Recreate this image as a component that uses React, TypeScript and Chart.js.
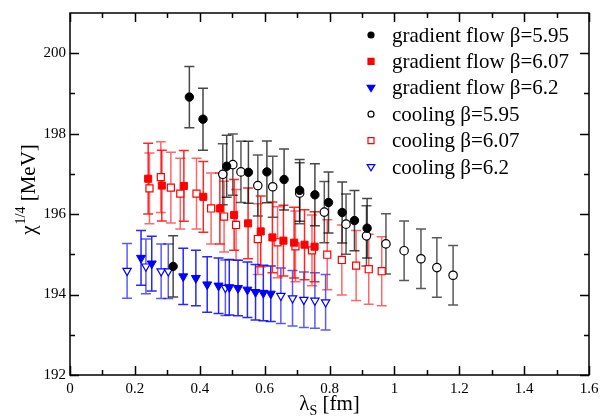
import React, { useEffect, useRef } from 'react';
import { Chart, registerables } from 'chart.js';

Chart.register(...registerables);

// ---- data ----
const gfB595X = [0.318, 0.368, 0.410, 0.483, 0.550, 0.607, 0.660, 0.708, 0.755, 0.797, 0.839, 0.877, 0.916];
const gfB595Y = [194.70, 198.91, 198.36, 197.19, 197.04, 197.05, 196.86, 196.59, 196.48, 196.29, 196.04, 195.84, 195.65];
const gfB595Err = [0.76, 0.76, 0.77, 0.77, 0.77, 0.77, 0.76, 0.77, 0.77, 0.76, 0.76, 0.75, 0.74];

const gfB607X = [0.241, 0.283, 0.351, 0.411, 0.462, 0.506, 0.549, 0.588, 0.624, 0.658, 0.691, 0.723, 0.754];
const gfB607Y = [196.88, 196.71, 196.70, 196.43, 196.14, 195.98, 195.77, 195.57, 195.42, 195.34, 195.29, 195.24, 195.19];
const gfB607Err = [0.88, 0.88, 0.88, 0.88, 0.88, 0.88, 0.88, 0.88, 0.88, 0.88, 0.88, 0.87, 0.87];

const gfB62X = [0.219, 0.252, 0.349, 0.388, 0.423, 0.458, 0.491, 0.518, 0.547, 0.572, 0.596, 0.619];
const gfB62Y = [194.91, 194.77, 194.45, 194.41, 194.25, 194.22, 194.18, 194.16, 194.12, 194.06, 194.04, 194.02];
const gfB62Err = [0.68, 0.68, 0.70, 0.69, 0.69, 0.69, 0.69, 0.69, 0.69, 0.69, 0.69, 0.69];

const coolB595X = [0.471, 0.502, 0.527, 0.579, 0.625, 0.708, 0.784, 0.851, 0.914, 0.974, 1.030, 1.082, 1.131, 1.181];
const coolB595Y = [196.99, 197.23, 197.05, 196.71, 196.68, 196.52, 196.05, 195.75, 195.46, 195.26, 195.09, 194.89, 194.67, 194.48];
const coolB595Err = [0.76, 0.76, 0.76, 0.76, 0.76, 0.76, 0.76, 0.75, 0.75, 0.75, 0.74, 0.74, 0.74, 0.74];

const coolB607X = [0.245, 0.280, 0.311, 0.340, 0.390, 0.435, 0.475, 0.512, 0.579, 0.640, 0.695, 0.746, 0.793, 0.838, 0.882, 0.921, 0.961];
const coolB607Y = [196.64, 196.92, 196.66, 196.51, 196.51, 196.14, 195.94, 195.73, 195.38, 195.30, 195.20, 195.10, 194.99, 194.86, 194.72, 194.63, 194.58];
const coolB607Err = [0.88, 0.88, 0.88, 0.88, 0.88, 0.88, 0.88, 0.88, 0.88, 0.88, 0.88, 0.88, 0.87, 0.87, 0.87, 0.87, 0.86];

const coolB62X = [0.176, 0.234, 0.281, 0.303, 0.479, 0.650, 0.686, 0.721, 0.755, 0.788];
const coolB62Y = [194.59, 194.70, 194.58, 194.58, 194.17, 193.97, 193.91, 193.87, 193.85, 193.81];
const coolB62Err = [0.68, 0.68, 0.68, 0.68, 0.69, 0.69, 0.69, 0.69, 0.69, 0.69];

const seriesLabels = [
  'gradient flow \u03b2=5.95',
  'gradient flow \u03b2=6.07',
  'gradient flow \u03b2=6.2',
  'cooling \u03b2=5.95',
  'cooling \u03b2=6.07',
  'cooling \u03b2=6.2',
];

const xTicks = [0, 0.2, 0.4, 0.6, 0.8, 1.0, 1.2, 1.4, 1.6];
const xMinorTicks = [0.1, 0.3, 0.5, 0.7, 0.9, 1.1, 1.3, 1.5];
const yTicks = [192, 194, 196, 198, 200];
const yMinorTicks = [193, 195, 197, 199];

const SERIF = '"Liberation Serif", "DejaVu Serif", serif';

const zip = (xs: number[], ys: number[]) => xs.map((x, i) => ({ x, y: ys[i] }));

const errorBarPlugin = {
  id: 'errorBars',
  beforeDatasetsDraw(chart: any) {
    const { ctx } = chart;
    const xs = chart.scales.x;
    const ys = chart.scales.y;
    for (let i = chart.data.datasets.length - 1; i >= 0; i--) {
      const ds: any = chart.data.datasets[i];
      const errs: number[] = ds.errors || [];
      ctx.save();
      ctx.strokeStyle = ds.errorColor;
      ctx.lineWidth = 1.5;
      ds.data.forEach((pt: any, j: number) => {
        const e = errs[j] || 0;
        const px = xs.getPixelForValue(pt.x);
        const yt = ys.getPixelForValue(pt.y + e);
        const yb = ys.getPixelForValue(pt.y - e);
        ctx.beginPath();
        ctx.moveTo(px, yt);
        ctx.lineTo(px, yb);
        ctx.moveTo(px - 5, yt);
        ctx.lineTo(px + 5, yt);
        ctx.moveTo(px - 5, yb);
        ctx.lineTo(px + 5, yb);
        ctx.stroke();
      });
      ctx.restore();
    }
  },
};

const framePlugin = {
  id: 'frame',
  afterDatasetsDraw(chart: any) {
    const { ctx, chartArea: a } = chart;
    const xs = chart.scales.x;
    const ys = chart.scales.y;
    ctx.save();
    ctx.strokeStyle = '#000';
    ctx.lineWidth = 1.5;
    ctx.strokeRect(a.left, a.top, a.right - a.left, a.bottom - a.top);
    ctx.beginPath();
    const major = 9;
    const minor = 5;
    const xt = (vals: number[], len: number) => {
      vals.forEach((v) => {
        const p = Math.round(xs.getPixelForValue(v)) + 0.5;
        ctx.moveTo(p, a.bottom);
        ctx.lineTo(p, a.bottom - len);
        ctx.moveTo(p, a.top);
        ctx.lineTo(p, a.top + len);
      });
    };
    const yt = (vals: number[], len: number) => {
      vals.forEach((v) => {
        const p = Math.round(ys.getPixelForValue(v)) + 0.5;
        ctx.moveTo(a.left, p);
        ctx.lineTo(a.left + len, p);
        ctx.moveTo(a.right, p);
        ctx.lineTo(a.right - len, p);
      });
    };
    xt(xTicks, major);
    xt(xMinorTicks, minor);
    yt(yTicks, major);
    yt(yMinorTicks, minor);
    ctx.stroke();
    ctx.restore();
  },
};

const drawMarker = (ctx: any, kind: string, filled: boolean, color: string, x: number, y: number, r: number) => {
  ctx.save();
  ctx.beginPath();
  if (kind === 'circle') {
    ctx.arc(x, y, r, 0, Math.PI * 2);
  } else if (kind === 'rect') {
    ctx.rect(x - r, y - r, 2 * r, 2 * r);
  } else {
    ctx.moveTo(x - r * 0.95, y - r * 0.6);
    ctx.lineTo(x + r * 0.95, y - r * 0.6);
    ctx.lineTo(x, y + r * 0.95);
    ctx.closePath();
  }
  ctx.lineWidth = 1.2;
  ctx.strokeStyle = color;
  ctx.fillStyle = filled ? color : '#fff';
  ctx.fill();
  ctx.stroke();
  ctx.restore();
};

const legendPlugin = {
  id: 'customLegend',
  afterDraw(chart: any) {
    const { ctx } = chart;
    ctx.save();
    ctx.font = `21px ${SERIF}`;
    ctx.textBaseline = 'middle';
    ctx.textAlign = 'left';
    ctx.fillStyle = '#000';
    chart.data.datasets.forEach((ds: any, i: number) => {
      const y = 35 + i * 26.4;
      const sz = ds.legendKind === 'circle' ? 3 : ds.legendKind === 'rect' ? 3 : 4;
      drawMarker(ctx, ds.legendKind, ds.legendFilled, ds.borderColor, 371, y, sz);
      ctx.fillStyle = '#000';
      ctx.fillText(ds.label, 392, y + 1);
    });
    ctx.restore();
  },
};

const axisTitlePlugin = {
  id: 'axisTitles',
  afterDraw(chart: any) {
    const { ctx, chartArea: a } = chart;
    ctx.save();
    ctx.fillStyle = '#000';
    ctx.textBaseline = 'alphabetic';
    // x title: λ_S [fm]
    const big = `21px ${SERIF}`;
    const small = `14px ${SERIF}`;
    ctx.font = big;
    const wL = ctx.measureText('\u03bb').width;
    const wR = ctx.measureText(' [fm]').width;
    ctx.font = small;
    const wS = ctx.measureText('S').width;
    const total = wL + wS + wR;
    let x0 = (a.left + a.right) / 2 - total / 2;
    const by = 410;
    ctx.font = big;
    ctx.textAlign = 'left';
    ctx.fillText('\u03bb', x0, by);
    ctx.font = small;
    ctx.fillText('S', x0 + wL, by + 5);
    ctx.font = big;
    ctx.fillText(' [fm]', x0 + wL + wS, by);

    // y title: χ^{1/4} [MeV]
    ctx.translate(35, (a.top + a.bottom) / 2 - 4);
    ctx.rotate(-Math.PI / 2);
    ctx.font = big;
    const wC = ctx.measureText('\u03c7').width;
    const wM = ctx.measureText(' [MeV]').width;
    ctx.font = small;
    const wP = ctx.measureText('1/4').width;
    const tot2 = wC + wP + wM;
    let s = -tot2 / 2;
    ctx.font = big;
    ctx.fillText('\u03c7', s, 0);
    ctx.font = small;
    ctx.fillText('1/4', s + wC + 1, -10);
    ctx.font = big;
    ctx.fillText(' [MeV]', s + wC + wP + 1, 0);
    ctx.restore();
  },
};

const fmt = (v: number) => String(Math.round(v * 10) / 10);

export default function App() {
  const ref = useRef<HTMLCanvasElement | null>(null);

  useEffect(() => {
    if (!ref.current) return;
    const mk = (
      label: string,
      xs: number[],
      ys: number[],
      errs: number[],
      color: string,
      errColor: string,
      style: string,
      filled: boolean,
      radius: number
    ) => ({
      label,
      data: zip(xs, ys),
      errors: errs,
      errorColor: errColor,
      legendKind: style,
      legendFilled: filled,
      showLine: false,
      pointStyle: style === 'tri' ? 'triangle' : style,
      rotation: style === 'tri' ? 180 : 0,
      pointRotation: style === 'tri' ? 180 : 0,
      pointRadius: radius,
      pointHoverRadius: radius,
      pointBorderWidth: filled ? 1 : 1.2,
      borderColor: color,
      backgroundColor: filled ? color : '#ffffff',
      pointBackgroundColor: filled ? color : '#ffffff',
      pointBorderColor: color,
    });

    const datasets: any[] = [
      mk(seriesLabels[0], gfB595X, gfB595Y, gfB595Err, '#000000', 'rgba(0,0,0,0.72)', 'circle', true, 4.2),
      mk(seriesLabels[1], gfB607X, gfB607Y, gfB607Err, '#ff0000', 'rgba(255,0,0,0.85)', 'rect', true, 5),
      mk(seriesLabels[2], gfB62X, gfB62Y, gfB62Err, '#0000ff', 'rgba(0,0,255,0.85)', 'tri', true, 5.2),
      mk(seriesLabels[3], coolB595X, coolB595Y, coolB595Err, '#000000', 'rgba(0,0,0,0.65)', 'circle', false, 4.2),
      mk(seriesLabels[4], coolB607X, coolB607Y, coolB607Err, '#ff0000', 'rgba(255,0,0,0.6)', 'rect', false, 5),
      mk(seriesLabels[5], coolB62X, coolB62Y, coolB62Err, '#0000ff', 'rgba(0,0,255,0.65)', 'tri', false, 4.8),
    ];

    const chart = new Chart(ref.current, {
      type: 'scatter',
      data: { datasets },
      options: {
        animation: false,
        responsive: false,
        maintainAspectRatio: false,
        events: [],
        layout: { padding: { top: 11, right: 19, left: 0, bottom: 0 } },
        plugins: {
          legend: { display: false },
          tooltip: { enabled: false },
          title: { display: false },
        },
        scales: {
          x: {
            type: 'linear',
            min: 0,
            max: 1.6,
            afterBuildTicks: (s: any) => {
              s.ticks = xTicks.map((v) => ({ value: v }));
            },
            afterFit: (s: any) => {
              s.height = 41;
            },
            grid: { display: false, drawTicks: false },
            border: { display: false },
            ticks: {
              autoSkip: false,
              maxRotation: 0,
              padding: 5,
              color: '#000',
              font: { family: SERIF, size: 15 },
              callback: (v: any) => fmt(Number(v)),
            },
          },
          y: {
            type: 'linear',
            min: 192,
            max: 201,
            afterBuildTicks: (s: any) => {
              s.ticks = yTicks.map((v) => ({ value: v }));
            },
            afterFit: (s: any) => {
              s.width = 70;
            },
            grid: { display: false, drawTicks: false },
            border: { display: false },
            ticks: {
              padding: 4,
              color: '#000',
              font: { family: SERIF, size: 15 },
              callback: (v: any) => String(v),
            },
          },
        },
      } as any,
      plugins: [errorBarPlugin, framePlugin, legendPlugin, axisTitlePlugin],
    });
    return () => chart.destroy();
  }, []);

  return (
    <div style={{ position: 'fixed', left: 0, top: 0, width: 608, height: 416, background: '#fff' }}>
      <canvas ref={ref} width={608} height={416} style={{ display: 'block' }} />
    </div>
  );
}
